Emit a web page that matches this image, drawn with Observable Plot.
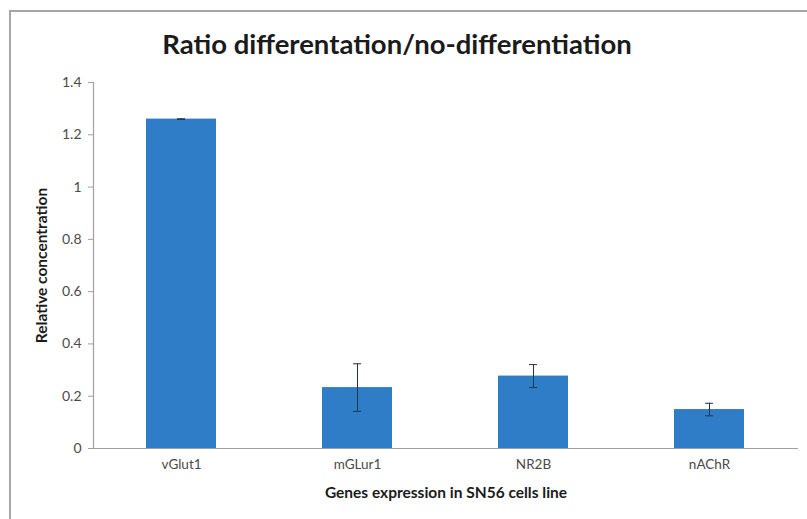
<!DOCTYPE html>
<html>
<head>
<meta charset="utf-8">
<script src="https://cdn.jsdelivr.net/npm/d3@7"></script>
<script src="https://cdn.jsdelivr.net/npm/@observablehq/plot@0.6"></script>
<style>
  html, body { margin: 0; padding: 0; background: #fff; }
  #wrap { position: relative; width: 807px; height: 519px; overflow: hidden; }
  #frame { position: absolute; left: 9px; top: 10px; width: 820px; height: 540px;
           border-top: 2px solid #a6a6a6; border-left: 2px solid #a6a6a6; }
  #title { position: absolute; left: 0; width: 794px; top: 27px; text-align: center;
           font-family: Lato, "Open Sans", sans-serif; font-weight: bold; font-size: 27.5px; color: #1b1b1b; }
  #chart { position: absolute; left: 0; top: 0; }
</style>
</head>
<body>
<div id="wrap">
  <div id="frame"></div>
  <div id="chart"></div>
  <div id="title">Ratio differentation/no-differentiation</div>
</div>
<script>
const genes = ["vGlut1", "mGLur1", "NR2B", "nAChR"];
const values = [1.26, 0.233, 0.277, 0.149];
const errors = [0.001, 0.091, 0.044, 0.024];
const yTicks = [0, 0.2, 0.4, 0.6, 0.8, 1, 1.2, 1.4];
const yLabel = "Relative concentration";
const xLabel = "Genes expression in SN56 cells line";

const data = genes.map((g, i) => ({gene: g, value: values[i], lo: values[i] - errors[i], hi: values[i] + errors[i]}));
const font = "Lato, 'Open Sans', sans-serif";

const chart = Plot.plot({
  width: 807,
  height: 519,
  marginTop: 82,
  marginBottom: 71,
  marginLeft: 93,
  marginRight: 9,
  style: {fontFamily: font, fontSize: "13px", background: "transparent", overflow: "visible"},
  x: {domain: genes, paddingInner: 0.6, paddingOuter: 0.3, label: null},
  y: {domain: [0, 1.4], label: null},
  marks: [
    Plot.barY(data, {x: "gene", y: "value", fill: "#2e7dc6"}),
    Plot.ruleY([0], {stroke: "#a0a0a0", strokeWidth: 1.2}),
    Plot.frame({anchor: "left", stroke: "#a0a0a0", strokeWidth: 1.2}),
    Plot.axisY({ticks: yTicks, tickSize: 5, tickPadding: 7, stroke: "#a0a0a0", fill: "#4a4a4a",
      tickFormat: d => String(+d.toFixed(1)), fontSize: 14, label: null}),
    Plot.axisX({tickSize: 0, tickPadding: 11, fill: "#4a4a4a", fontSize: 13.5, label: null}),
    Plot.ruleX(data, {x: "gene", y1: "lo", y2: "hi", stroke: "#1e3550", strokeWidth: 1}),
    Plot.tickY(data, {x: "gene", y: "lo", stroke: "#1e3550", strokeWidth: 1, insetLeft: 31, insetRight: 31}),
    Plot.tickY(data, {x: "gene", y: "hi", stroke: "#1e3550", strokeWidth: 1, insetLeft: 31, insetRight: 31}),
    Plot.text([yLabel], {frameAnchor: "left", textAnchor: "middle", rotate: -90, dx: -51, fontWeight: "bold", fontSize: 15.5, fill: "#1b1b1b"}),
    Plot.text([xLabel], {frameAnchor: "bottom", textAnchor: "middle", dy: 49, fontWeight: "bold", fontSize: 15.5, fill: "#1b1b1b"})
  ]
});
document.getElementById("chart").appendChild(chart);
</script>
</body>
</html>
